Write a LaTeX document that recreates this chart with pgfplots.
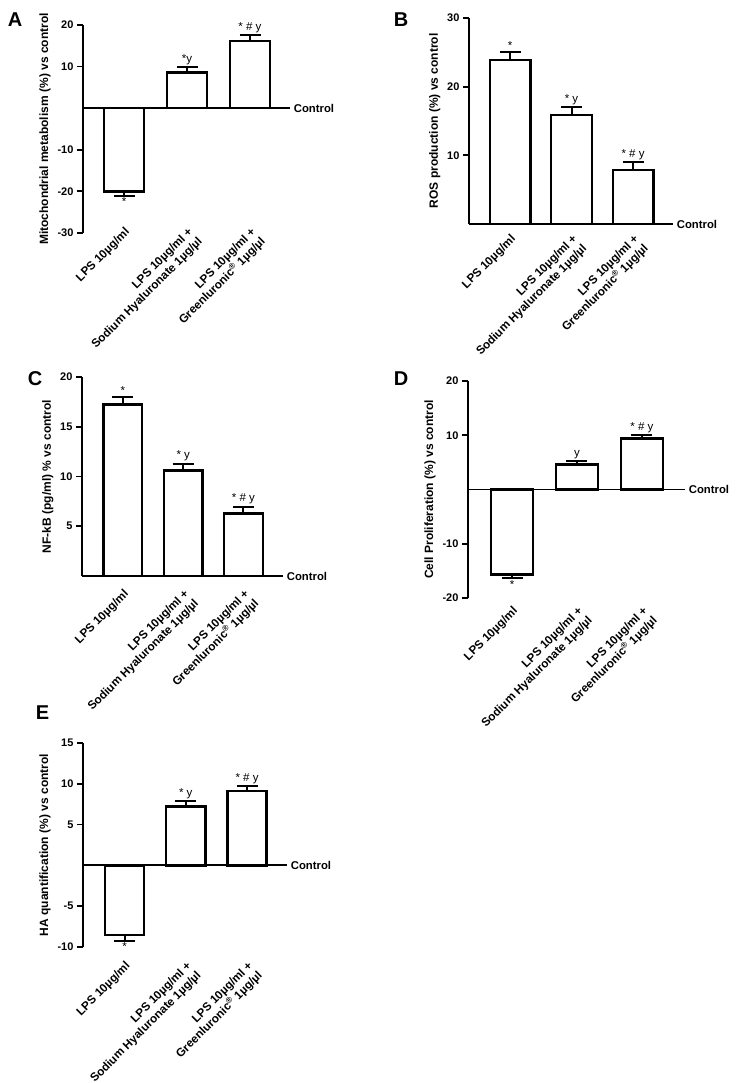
\documentclass[border=0pt]{standalone}
\usepackage{pgfplots}
\pgfplotsset{compat=1.18}
\usepackage{fontspec}
\setmainfont{Liberation Sans}

\newcommand{\tf}{\fontsize{11.5}{13}\selectfont}
\newcommand{\xf}{\fontsize{11.7}{13.8}\selectfont}
\newcommand{\yf}{\fontsize{12}{13.5}\selectfont}
\newcommand{\ytf}{\fontsize{11}{13}\selectfont}
\pgfplotsset{
  panel/.style={
    scale only axis,
    axis x line*=bottom, axis y line*=left,
    x axis line style={draw=none},
    xtick={0,1,2}, xtick style={draw=none},
    xticklabels={{LPS 10µg/ml},{LPS 10µg/ml +\\Sodium Hyaluronate 1µg/µl},{LPS 10µg/ml +\\Greenluronic\textsuperscript{®} 1µg/µl}},
    xticklabel style={rotate=45, anchor=north east, align=right, font=\xf\bfseries, inner sep=1pt},
    y axis line style={line width=1.8pt, -},
    ytick style={line width=1.8pt, black},
    tick align=outside, major tick length=6pt,
    yticklabel style={font=\ytf\bfseries},
    /pgf/number format/assume math mode=true,
    ylabel style={font=\yf\bfseries},
    clip=false,
    ybar,
  },
  barbase/.style={draw=black, fill=white, line width=2.4pt, bar shift=0pt, bar width=0.64,
    error bars/y explicit,
    error bars/error bar style={line width=2pt},
    error bars/error mark options={rotate=90, line width=2pt, mark size=10.5pt}},
  barpos/.style={barbase, error bars/y dir=plus},
  barneg/.style={barbase, error bars/y dir=minus},
}
\tikzset{
  ann/.style={font=\tf, anchor=south, inner sep=2.5pt},
  annb/.style={font=\tf, anchor=north, inner sep=1.5pt},
  ctrl/.style={anchor=west, font=\fontsize{11.3}{13}\selectfont\bfseries, inner sep=3pt},
}

\begin{document}
\begin{tikzpicture}
\path[use as bounding box] (0,0) rectangle (738pt,1083pt);

% ---------------- A
\begin{axis}[panel, at={(83pt,850pt)}, anchor=south west, width=207pt, height=208pt,
  xticklabel shift=-14pt,
  xmin=-0.651, xmax=2.635, ymin=-30, ymax=20, ytick={-30,-20,-10,10,20},
  ylabel={Mitochondrial metabolism (\%) vs control}]
\addplot[barneg] coordinates {(0,-20) +- (0,1.2)};
\addplot[barpos] coordinates {(1,8.6) +- (0,1.2) (2,16.2) +- (0,1.3)};
\draw[line width=1.8pt] (axis cs:-0.651,0) -- (axis cs:2.635,0) node[ctrl]{Control};
\node[annb] at (axis cs:0,-21.2) {*};
\node[ann] at (axis cs:1,9.8) {*y};
\node[ann] at (axis cs:2,17.5) {* \# y};
\end{axis}

% ---------------- B
\begin{axis}[panel, at={(469pt,859pt)}, anchor=south west, width=204pt, height=206pt,
  xticklabel shift=2pt,
  xmin=-0.667, xmax=2.650, ymin=0, ymax=30, ytick={10,20,30},
  ylabel={ROS production (\%) vs control}]
\addplot[barpos, bar width=0.66] coordinates {(0,23.9) +- (0,1.1) (1,15.9) +- (0,1.1) (2,7.9) +- (0,1.1)};
\draw[line width=1.8pt] (axis cs:-0.667,0) -- (axis cs:2.650,0) node[ctrl]{Control};
\node[ann] at (axis cs:0,25) {*};
\node[ann] at (axis cs:1,17) {* y};
\node[ann] at (axis cs:2,9) {* \# y};
\end{axis}

% ---------------- C
\begin{axis}[panel, at={(82pt,507pt)}, anchor=south west, width=201pt, height=199pt,
  xticklabel shift=5pt,
  xmin=-0.680, xmax=2.656, ymin=0, ymax=20, ytick={5,10,15,20},
  ylabel={NF-kB (pg/ml) \% vs control}]
\addplot[barpos] coordinates {(0,17.25) +- (0,0.7) (1,10.6) +- (0,0.7) (2,6.3) +- (0,0.65)};
\draw[line width=1.8pt] (axis cs:-0.680,0) -- (axis cs:2.656,0) node[ctrl]{Control};
\node[ann] at (axis cs:0,17.95) {*};
\node[ann] at (axis cs:1,11.3) {* y};
\node[ann] at (axis cs:2,6.95) {* \# y};
\end{axis}

% ---------------- D
\begin{axis}[panel, at={(468pt,485pt)}, anchor=south west, width=217pt, height=217pt,
  xticklabel shift=0pt,
  xmin=-0.677, xmax=2.662, ymin=-20, ymax=20, ytick={-20,-10,10,20},
  ylabel={Cell Proliferation (\%) vs control}]
\addplot[barneg] coordinates {(0,-15.7) +- (0,0.7)};
\addplot[barpos] coordinates {(1,4.6) +- (0,0.6) (2,9.4) +- (0,0.6)};
\draw[line width=1.8pt] (axis cs:-0.677,0) -- (axis cs:2.662,0) node[ctrl]{Control};
\node[annb] at (axis cs:0,-16.4) {*};
\node[ann] at (axis cs:1,5.2) {y};
\node[ann] at (axis cs:2,10.0) {* \# y};
\end{axis}

% ---------------- E
\begin{axis}[panel, at={(83pt,136pt)}, anchor=south west, width=204pt, height=204pt,
  xticklabel shift=6pt,
  xmin=-0.678, xmax=2.653, ymin=-10, ymax=15, ytick={-10,-5,5,10,15},
  ylabel={HA quantification (\%) vs control}]
\addplot[barneg] coordinates {(0,-8.5) +- (0,0.75)};
\addplot[barpos] coordinates {(1,7.2) +- (0,0.65) (2,9.15) +- (0,0.55)};
\draw[line width=1.8pt] (axis cs:-0.678,0) -- (axis cs:2.653,0) node[ctrl]{Control};
\node[annb] at (axis cs:0,-9.25) {*};
\node[ann] at (axis cs:1,7.85) {* y};
\node[ann] at (axis cs:2,9.7) {* \# y};
\end{axis}

% panel letters
\node[font=\fontsize{20}{22}\selectfont\bfseries] at (15pt,1063.5pt) {A};
\node[font=\fontsize{20}{22}\selectfont\bfseries] at (401pt,1063pt) {B};
\node[font=\fontsize{20}{22}\selectfont\bfseries] at (35pt,704.5pt) {C};
\node[font=\fontsize{20}{22}\selectfont\bfseries] at (401pt,704.5pt) {D};
\node[font=\fontsize{20}{22}\selectfont\bfseries] at (42.5pt,370pt) {E};
\end{tikzpicture}
\end{document}
